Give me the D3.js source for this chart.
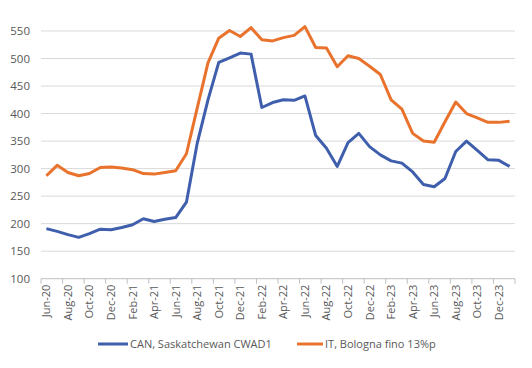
<!DOCTYPE html>
<html><head><meta charset="utf-8">
<script src="https://cdn.jsdelivr.net/npm/d3@7/dist/d3.min.js"></script>
<style>body{margin:0;background:#fff}svg{display:block}</style>
</head><body>
<svg id="c" width="532" height="368"></svg>
<script>
const months = ["Jun-20","Jul-20","Aug-20","Sep-20","Oct-20","Nov-20","Dec-20","Jan-21","Feb-21","Mar-21","Apr-21","May-21","Jun-21","Jul-21","Aug-21","Sep-21","Oct-21","Nov-21","Dec-21","Jan-22","Feb-22","Mar-22","Apr-22","May-22","Jun-22","Jul-22","Aug-22","Sep-22","Oct-22","Nov-22","Dec-22","Jan-23","Feb-23","Mar-23","Apr-23","May-23","Jun-23","Jul-23","Aug-23","Sep-23","Oct-23","Nov-23","Dec-23","Jan-24"];
const canValues = [191,186,180,175,182,190,189,193,198,209,204,208,211,239,346,425,493,501,510,508,411,420,425,424,432,360,337,304,347,364,340,325,314,310,294,271,267,282,331,350,333,316,315,304];
const itValues = [287,306,293,287,291,302,303,301,298,291,290,293,296,327,410,492,537,551,540,556,534,532,538,542,558,520,519,485,505,500,486,471,425,408,364,350,348,385,421,400,392,384,384,386];
const yTicks = [100,150,200,250,300,350,400,450,500,550];
const seriesNames = ["CAN, Saskatchewan CWAD1","IT, Bologna fino 13%p"];
const colors = ["#3F5FAD","#E9732D"];

const svg = d3.select("#c");
const L=41, R=515, T=31, B=278.7;
const x = d3.scaleBand().domain(months).range([L,R]).paddingInner(0).paddingOuter(0);
const y = d3.scaleLinear().domain([100,550]).range([B,T]);
const font = "'Open Sans', 'Noto Sans', sans-serif";

// grid
svg.append("g").selectAll("line").data(yTicks.filter(d=>d>100)).join("line")
  .attr("x1",L).attr("x2",R).attr("y1",d=>y(d)).attr("y2",d=>y(d))
  .attr("stroke","#d9d9d9").attr("stroke-width",1);

// y axis labels
const yAxis = d3.axisLeft(y).tickValues(yTicks).tickSize(0).tickPadding(11);
const gy = svg.append("g").attr("transform",`translate(${L},0)`).call(yAxis);
gy.select(".domain").remove();
gy.selectAll("text").attr("fill","#595959").style("font-family",font).style("font-size","11.5px");

// x axis
const gx = svg.append("g").attr("transform",`translate(0,${B})`);
gx.append("line").attr("x1",L).attr("x2",R).attr("stroke","#bfbfbf");
const tickIdx = d3.range(0, months.length+1, 2);
gx.selectAll("line.tk").data(tickIdx).join("line").attr("class","tk")
  .attr("x1",i=>i<months.length? x(months[i]) : R).attr("x2",i=>i<months.length? x(months[i]) : R)
  .attr("y1",0).attr("y2",5).attr("stroke","#bfbfbf");
gx.selectAll("text").data(months.filter((d,i)=>i%2===0)).join("text")
  .attr("transform",d=>`translate(${x(d)+x.bandwidth()/2+4},6) rotate(-90)`)
  .attr("text-anchor","end").attr("fill","#595959")
  .style("font-family",font).style("font-size","11px").text(d=>d);

// lines
const line = d3.line().x((d,i)=>x(months[i])+x.bandwidth()/2).y(d=>y(d));
[canValues,itValues].forEach((vals,k)=>{
  svg.append("path").datum(vals).attr("d",line).attr("fill","none")
    .attr("stroke",colors[k]).attr("stroke-width",3).attr("stroke-linejoin","round");
});

// legend
const leg = [[98,128,130],[297,323,325]];
seriesNames.forEach((n,k)=>{
  svg.append("line").attr("x1",leg[k][0]).attr("x2",leg[k][1]).attr("y1",344).attr("y2",344)
    .attr("stroke",colors[k]).attr("stroke-width",3);
  svg.append("text").attr("x",leg[k][2]).attr("y",348).attr("fill","#595959")
    .style("font-family",font).style("font-size","11px").text(n);
});
</script>
</body></html>
